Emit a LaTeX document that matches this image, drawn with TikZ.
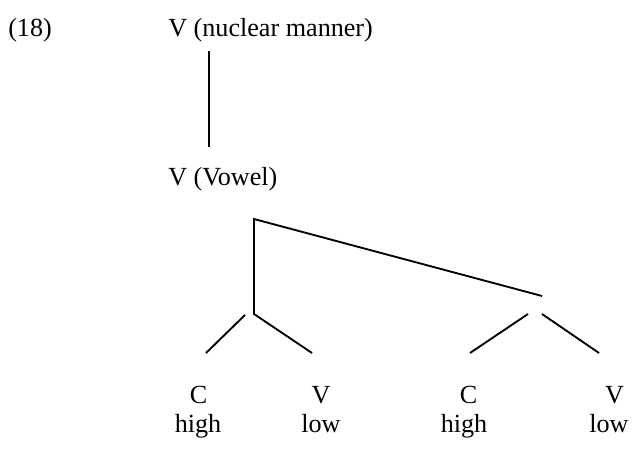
\documentclass[tikz,border=0pt]{standalone}
\usepackage{fontspec}
\setmainfont{Liberation Serif}
\usetikzlibrary{positioning}

\tikzset{
  lbl/.style={inner sep=0pt, anchor=base, font=\fontsize{19.6}{23}\selectfont},
  branch/.style={line width=1.4pt},
}

\begin{document}
\begin{tikzpicture}[x=0.75pt, y=-0.75pt]
\useasboundingbox (0,0) rectangle (634,449);

\node[lbl, anchor=base west] (num) at (8, 37) {(18)};
\node[lbl, anchor=base west] (manner) at (168, 37) {V (nuclear manner)};
\node[lbl, anchor=base west] (vowel) at (168, 185) {V (Vowel)};

\node[lbl] (c1) at (198.5, 403) {C};
\node[lbl] (h1) at (198, 432) {high};
\node[lbl] (v1) at (321, 403) {V};
\node[lbl] (l1) at (321, 432) {low};
\node[lbl] (c2) at (468.5, 403) {C};
\node[lbl] (h2) at (464, 432) {high};
\node[lbl] (v2) at (614.5, 403) {V};
\node[lbl] (l2) at (609, 432) {low};

% tree points
\coordinate (top) at (209, 51);
\coordinate (mid) at (209, 147);
\coordinate (root) at (254, 219);
\coordinate (lnode) at (254, 314);
\coordinate (rnode) at (542, 296);
\coordinate (la) at (245, 315);
\coordinate (ra) at (528, 314);
\coordinate (rb) at (542, 314);
\coordinate (c1t) at (206, 353);
\coordinate (v1t) at (312, 353);
\coordinate (c2t) at (470, 353);
\coordinate (v2t) at (599, 353);

\draw[branch] (top) -- (mid);
\draw[branch] (rnode) -- (root) -- (lnode) -- (v1t);
\draw[branch] (la) -- (c1t);
\draw[branch] (ra) -- (c2t);
\draw[branch] (rb) -- (v2t);

\end{tikzpicture}
\end{document}
